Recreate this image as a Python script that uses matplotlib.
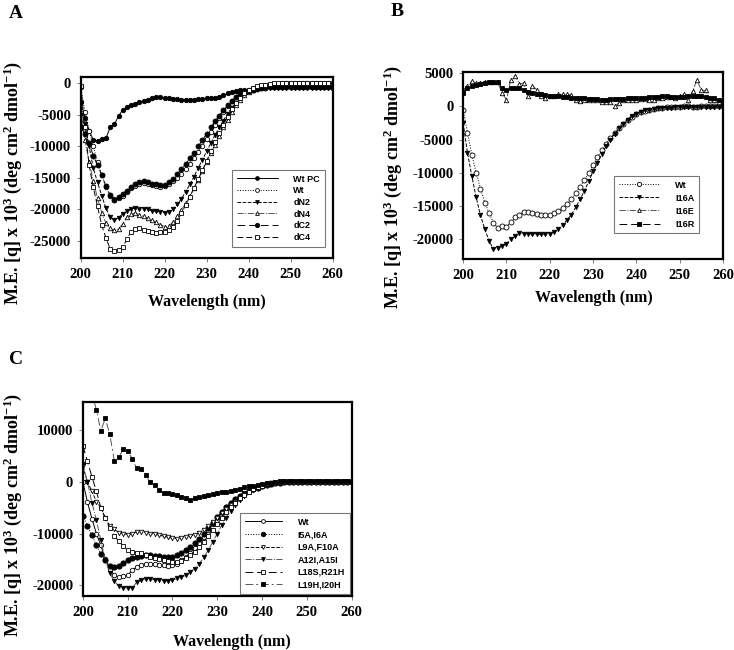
import matplotlib
matplotlib.use("Agg")
import matplotlib.pyplot as plt

plt.rcParams['font.family'] = ['Liberation Serif', 'DejaVu Serif']
plt.rcParams['font.weight'] = 'bold'
plt.rcParams['axes.unicode_minus'] = False
plt.rcParams['mathtext.fontset'] = 'custom'
plt.rcParams['mathtext.rm'] = 'Liberation Serif:bold'
plt.rcParams['mathtext.bf'] = 'Liberation Serif:bold'
plt.rcParams['mathtext.default'] = 'bf'

# wavelength grid (nm), one reading per nm
wavelength = [200, 201, 202, 203, 204, 205, 206, 207, 208, 209,
              210, 211, 212, 213, 214, 215, 216, 217, 218, 219,
              220, 221, 222, 223, 224, 225, 226, 227, 228, 229,
              230, 231, 232, 233, 234, 235, 236, 237, 238, 239,
              240, 241, 242, 243, 244, 245, 246, 247, 248, 249,
              250, 251, 252, 253, 254, 255, 256, 257, 258, 259, 260]

# ---- panel A ----
a_wt_pc = [-3000, -5500, -7500, -9000, -9200, -8900, -8700, -7000, -6500, -5200,
           -4200, -3800, -3500, -3200, -3000, -2800, -2600, -2400, -2200, -2200,
           -2300, -2400, -2500, -2500, -2600, -2600, -2600, -2600, -2500, -2500,
           -2400, -2400, -2300, -2200, -1900, -1600, -1400, -1200, -1100, -1000,
           -1000, -900, -800, -700, -600, -500, -500, -500, -500, -500,
           -500, -500, -500, -500, -500, -500, -500, -500, -500, -500, -600]
a_wt = [-600, -4500, -7500, -10000, -12500, -14500, -16500, -17800, -18300, -18200,
        -17800, -17200, -16600, -16200, -15900, -15800, -15900, -16100, -16300, -16400,
        -16300, -16000, -15500, -15000, -14300, -13600, -12800, -11900, -10900, -9900,
        -8800, -7700, -6600, -5500, -4500, -3600, -2800, -2200, -1700, -1300,
        -1000, -800, -600, -400, -300, -200, -100, -100, 0, 0,
        0, 0, 100, 0, 0, 0, 0, 100, 100, 0, -100]
a_dn2 = [-5000, -6500, -10000, -13500, -15700, -17800, -19800, -21200, -21700, -21300,
         -20700, -20300, -19900, -19800, -20000, -19900, -20000, -20200, -20300, -20400,
         -20500, -20400, -19900, -19200, -18300, -17200, -16000, -14800, -13400, -12100,
         -10800, -9500, -8200, -7000, -5900, -4800, -3900, -3100, -2400, -1800,
         -1400, -1100, -900, -800, -700, -700, -700, -700, -700, -700,
         -700, -700, -700, -700, -700, -700, -700, -700, -700, -700, -800]
a_dn4 = [-4000, -9000, -12500, -15500, -18200, -20500, -22200, -23000, -23300, -23100,
         -22300, -21200, -20700, -20600, -20800, -21100, -21400, -21700, -22000, -22400,
         -22700, -22600, -22000, -21100, -20100, -19000, -17800, -16600, -15300, -13900,
         -12500, -11100, -9700, -8300, -7000, -5800, -4600, -3500, -2600, -1900,
         -1400, -1000, -700, -500, -400, -300, -300, -300, -200, -200,
         -200, -200, -200, -200, -200, -200, -200, -200, -200, -200, -200]
a_dc2 = [-7000, -8000, -9500, -11500, -13000, -14500, -16300, -17700, -18500, -18000,
         -17500, -17000, -16500, -16000, -15700, -15500, -15700, -15900, -16000, -16100,
         -16100, -15700, -15100, -14400, -13600, -12800, -11900, -11000, -10000, -9000,
         -8000, -7000, -6000, -5100, -4300, -3500, -2800, -2200, -1700, -1400,
         -1200, -1000, -900, -800, -700, -600, -600, -600, -600, -600,
         -600, -600, -600, -600, -600, -600, -600, -600, -600, -600, -700]
a_dc4 = [-500, -7000, -13000, -16500, -19500, -22500, -24500, -26200, -26600, -26400,
         -26000, -24700, -23500, -23100, -23000, -23200, -23400, -23600, -23700, -23600,
         -23500, -23300, -22700, -21800, -20600, -19300, -18000, -16600, -15200, -13800,
         -12300, -10800, -9300, -7900, -6600, -5300, -4100, -3100, -2300, -1600,
         -1100, -800, -500, -300, -200, -100, 0, 0, 0, 0,
         0, 0, 100, 0, 0, 0, 0, 100, 100, 0, 0]

# ---- panel B ----
b_wt = [-500, -4000, -7300, -10000, -12400, -14500, -16100, -17500, -18400, -18100,
        -18200, -17400, -16700, -16300, -15900, -15900, -16000, -16200, -16300, -16400,
        -16300, -16100, -15700, -15300, -14700, -14000, -13100, -12100, -11100, -10000,
        -8800, -7700, -6600, -5600, -4800, -4000, -3300, -2600, -2000, -1600,
        -1200, -900, -700, -500, -400, -300, -200, -150, -100, -100,
        -100, 0, 0, -100, -100, 0, 0, 0, 0, 0, 0]
b_i16a = [-2500, -7000, -10500, -13700, -16400, -18500, -20300, -21500, -21400, -21000,
          -20700, -20000, -19500, -19100, -19200, -19200, -19200, -19200, -19300, -19300,
          -19200, -19000, -18500, -17900, -17100, -16300, -15200, -14000, -12700, -11300,
          -9800, -8500, -7200, -6000, -5000, -4100, -3300, -2600, -2000, -1500,
          -1100, -800, -600, -500, -400, -300, -200, -200, -200, -100,
          -100, -100, -100, -100, -100, -100, -100, -100, -100, -100, -100]
b_i16e = [2500, 3000, 3800, 3500, 3500, 3600, 3600, 3600, 3600, 2000,
          1000, 4000, 4600, 3400, 3500, 1500, 3100, 2500, 1500, 1300,
          1500, 1600, 1800, 1800, 1800, 1700, 900, 800, 1000, 1000,
          1000, 900, 700, 700, 600, 100, 500, 1000, 1000, 900,
          1000, 1100, 1100, 1000, 1000, 1300, 1300, 1400, 1400, 1300,
          1500, 1800, 1000, 2300, 4000, 2400, 2400, 1000, 1000, 700, 500]
b_i16r = [2000, 2700, 3000, 3200, 3400, 3500, 3600, 3700, 3700, 2800,
          2400, 2700, 2800, 2700, 2500, 2200, 2000, 1900, 1800, 1700,
          1600, 1500, 1500, 1400, 1400, 1300, 1300, 1200, 1200, 1100,
          1100, 1100, 1000, 1000, 1100, 1100, 1100, 1100, 1200, 1200,
          1300, 1300, 1300, 1400, 1400, 1400, 1500, 1500, 1400, 1400,
          1400, 1400, 1500, 1500, 1500, 1500, 1400, 1300, 1200, 1000, 800]

# ---- panel C ----
c_wt = [0, -3900, -7100, -10000, -12300, -15000, -16800, -18100, -18500, -18300,
        -18100, -17100, -16500, -16100, -15800, -15800, -15900, -16000, -16100, -16200,
        -16100, -15800, -15200, -14500, -13700, -12800, -11800, -10600, -9400, -8100,
        -6800, -5800, -4900, -4000, -3300, -2700, -2200, -1700, -1300, -1000,
        -700, -500, -300, -200, -100, 0, 0, 0, 0, 0,
        0, 0, 0, 0, 0, 0, 0, 0, 0, 0, 0]
c_i5a = [-6600, -8500, -10300, -12300, -13900, -15200, -16300, -16500, -16300, -15700,
         -15200, -14800, -14500, -14400, -14200, -14200, -14300, -14400, -14500, -14500,
         -14500, -14200, -13700, -13200, -12600, -11800, -11000, -10000, -9000, -7900,
         -6800, -5800, -4900, -4100, -3400, -2800, -2300, -1800, -1400, -1100,
         -800, -600, -400, -300, -200, -100, 0, 0, 0, 0,
         0, 0, 0, 0, 0, 0, 0, 0, 0, 0, 0]
c_l9a = [3000, 0, -1800, -3800, -5000, -7000, -8500, -9200, -9800, -10000,
         -10200, -10000, -9700, -9700, -9800, -10000, -10100, -10300, -10500, -10700,
         -10900, -11000, -10900, -10700, -10500, -10200, -9800, -9300, -8600, -7800,
         -7000, -6100, -5300, -4500, -3800, -3100, -2500, -2000, -1500, -1100,
         -800, -500, -300, -200, -100, 0, 0, 0, 0, 0,
         0, 0, 0, 0, 0, 0, 0, 0, 0, 0, 0]
c_a12i = [3400, 0, -4000, -7400, -11300, -15200, -17700, -19200, -20200, -20500,
          -20500, -20500, -19400, -19000, -18800, -18800, -18900, -19000, -19200, -19200,
          -19000, -18700, -18400, -18100, -17400, -16800, -15800, -14600, -13200, -11600,
          -10000, -8400, -6900, -5600, -4500, -3500, -2700, -2000, -1500, -1100,
          -800, -500, -300, -200, -100, 0, 0, 0, 0, 0,
          0, 0, 0, 0, 0, 0, 0, 0, 0, 0, 0]
c_l18s = [7000, 4000, 1000, -1800, -5000, -7000, -9000, -10400, -11500, -12400,
          -13100, -13500, -13700, -13700, -14200, -14500, -14800, -15000, -15200, -15400,
          -15500, -15600, -15300, -14800, -14200, -13500, -12600, -11600, -10500, -9300,
          -8100, -7000, -5900, -4900, -4000, -3200, -2500, -1900, -1400, -1000,
          -700, -500, -300, -200, -100, 0, 0, 0, 0, 0,
          0, 0, 0, 0, 0, 0, 0, 0, 0, 0, 0]
c_l19h = [24000, 20000, 17000, 14000, 9900, 12300, 9200, 4100, 4800, 6300,
          6000, 4500, 2600, 2500, 1300, -100, -600, -1600, -2100, -2100,
          -2400, -2500, -2900, -3200, -3500, -3200, -2900, -2800, -2600, -2400,
          -2100, -1900, -1900, -1700, -1600, -1300, -1000, -800, -800, -600,
          -500, -300, -200, 0, 100, 100, 100, 100, 100, 100,
          100, 100, 100, 100, 100, 100, 100, 100, 100, 100, 100]

x_ticks = [200, 210, 220, 230, 240, 250, 260]
ylabel = r"M.E. [q] x 10$^3$ (deg cm$^2$ dmol$^{-1}$)"

fig = plt.figure(figsize=(7.34, 6.5), dpi=100)


def style_axes(ax, ylim, yticks):
    ax.set_xlim(200, 260)
    ax.set_ylim(*ylim)
    ax.set_xticks(x_ticks)
    ax.set_yticks(yticks)
    for s in ax.spines.values():
        s.set_linewidth(1.6)
    ax.tick_params(direction='out', length=3, width=0.6, color='#666666',
                   labelsize=10.5, pad=4)
    for lab in ax.get_xticklabels() + ax.get_yticklabels():
        lab.set_fontweight('bold')


def draw(ax, y, label, marker, ls, fill, ms=3.2, lc='black'):
    ax.plot(wavelength, y, linestyle=ls, color=lc, lw=0.7, marker=marker, ms=ms,
            mfc='black' if fill else 'white', mec='black', mew=0.6, label=label)


def add_legend(ax, left_px, top_px, spacing, hlen=4.6):
    leg = ax.legend(loc='upper left', bbox_to_anchor=(left_px / 734, 1 - top_px / 650),
                    bbox_transform=fig.transFigure, borderaxespad=0,
                    prop={'family': 'Liberation Sans', 'weight': 'bold', 'size': 6.5},
                    handlelength=hlen, labelspacing=spacing, borderpad=0.5,
                    handletextpad=1.7, markerscale=0.85, fancybox=False, framealpha=1)
    leg.get_frame().set_edgecolor('#777777')
    leg.get_frame().set_linewidth(0.8)


# panel A
axA = fig.add_axes([0.110, 0.603, 0.343, 0.278])
draw(axA, a_wt_pc, 'Wt PC', 'o', '-', True)
draw(axA, a_wt, 'Wt', 'o', ':', False)
draw(axA, a_dn2, 'dN2', 'v', '--', True)
draw(axA, a_dn4, 'dN4', '^', '-.', False, lc='#555555')
draw(axA, a_dc2, 'dC2', 'o', (0, (8, 4)), True, ms=3.6)
draw(axA, a_dc4, 'dC4', 's', (0, (6, 3)), False)
style_axes(axA, (-27700, 950), [0, -5000, -10000, -15000, -20000, -25000])
add_legend(axA, 232, 170, 0.3)

# panel B
axB = fig.add_axes([0.631, 0.6015, 0.354, 0.288])
draw(axB, b_wt, 'Wt', 'o', ':', False, ms=3.6)
draw(axB, b_i16a, 'I16A', 'v', '--', True)
draw(axB, b_i16e, 'I16E', '^', '-.', False, lc='#555555')
draw(axB, b_i16r, 'I16R', 's', (0, (8, 4)), True)
style_axes(axB, (-23000, 5200), [5000, 0, -5000, -10000, -15000, -20000])
add_legend(axB, 614, 176, 0.45)

# panel C
axC = fig.add_axes([0.113, 0.083, 0.366, 0.298])
draw(axC, c_wt, 'Wt', 'o', '-', False)
draw(axC, c_i5a, 'I5A,I6A', 'o', ':', True, ms=3.8)
draw(axC, c_l9a, 'L9A,F10A', 'v', '--', False)
draw(axC, c_a12i, 'A12I,A15I', 'v', '-.', True, lc='#555555')
draw(axC, c_l18s, 'L18S,R21H', 's', (0, (8, 4)), False)
draw(axC, c_l19h, 'L19H,I20H', 's', (0, (8, 3, 2, 3)), True, lc='#555555')
style_axes(axC, (-22100, 15400), [10000, 0, -10000, -20000])
add_legend(axC, 240, 513, 0.4, hlen=4.2)

# axis titles
for cx, cy in [(207, 302), (594, 298), (232, 642)]:
    fig.text(cx / 734, 1 - cy / 650, 'Wavelength (nm)', ha='center', va='center',
             fontsize=11.5, fontweight='bold')
for cx, cy in [(13, 183), (393, 187), (13, 515)]:
    fig.text(cx / 734, 1 - cy / 650, ylabel, ha='center', va='center',
             rotation=90, fontsize=13, fontweight='bold')

# panel letters
for letter, cx, cy in [('A', 16, 14), ('B', 397, 11), ('C', 16, 360)]:
    fig.text(cx / 734, 1 - cy / 650, letter, ha='center', va='center',
             fontsize=14, fontweight='bold')

fig.savefig('out.png', dpi=100)
